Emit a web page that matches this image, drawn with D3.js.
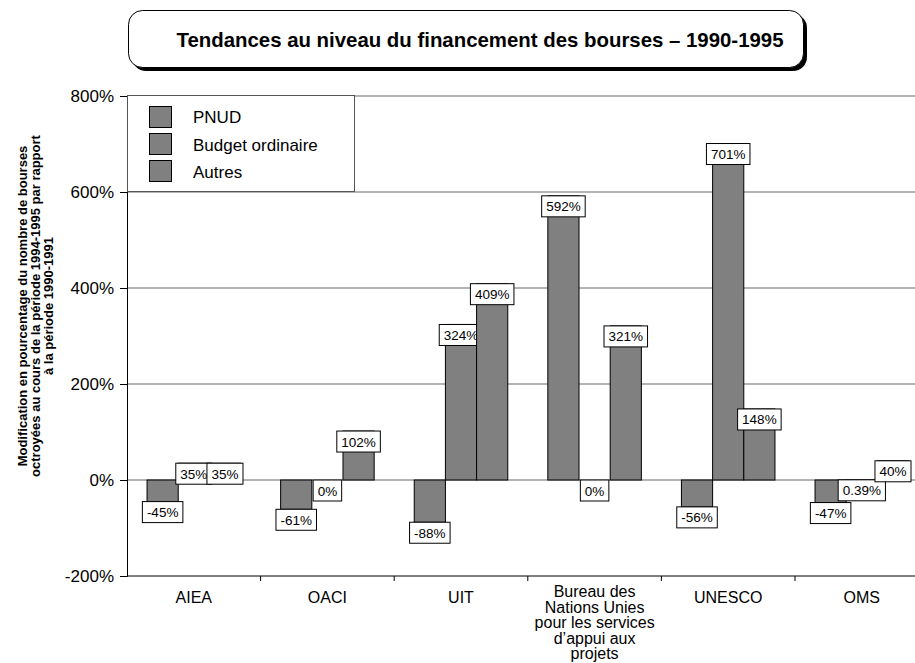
<!DOCTYPE html>
<html>
<head>
<meta charset="utf-8">
<script src="https://cdn.jsdelivr.net/npm/d3@7"></script>
<style>
  html, body { margin: 0; padding: 0; background: #fff; }
  svg { display: block; font-family: "Liberation Sans", Arial, sans-serif; }
</style>
</head>
<body>
<div id="chart"></div>
<script>
// ---- Data ----
const titleText = "Tendances au niveau du financement des bourses – 1990-1995";
const yAxisTitle = [
  "Modification en pourcentage du nombre de bourses",
  "octroyées au cours de la période 1994-1995 par rapport",
  "à la période 1990-1991"
];
const categories = ["AIEA", "OACI", "UIT", "Bureau", "UNESCO", "OMS"];
const categoryLabels = [
  ["AIEA"],
  ["OACI"],
  ["UIT"],
  ["Bureau des", "Nations Unies", "pour les services", "d’appui aux", "projets"],
  ["UNESCO"],
  ["OMS"]
];
const seriesNames = ["PNUD", "Budget ordinaire", "Autres"];
const pnud   = [-45, -61, -88, 592, -56, -47];
const budget = [35, 0, 324, 0, 701, 0.39];
const autres = [35, 102, 409, 321, 148, 40];
const yTicks = [-200, 0, 200, 400, 600, 800];

// ---- Layout ----
const W = 915, H = 663;
const plotLeft = 127, plotTop = 96, plotBottom = 576;
const step = 133.6;
const plotRight = plotLeft + step * categories.length;

const svg = d3.select("#chart").append("svg")
  .attr("width", W).attr("height", H);

const y = d3.scaleLinear().domain([-200, 800]).range([plotBottom, plotTop]);
const x0 = d3.scaleBand().domain(categories).range([plotLeft, plotRight])
  .paddingInner(0.3).paddingOuter(0.15);
const x1 = d3.scaleBand().domain(seriesNames).range([0, x0.bandwidth()]);

// Gridlines
svg.append("g").selectAll("line").data(yTicks.filter(t => t > -200))
  .join("line")
  .attr("x1", plotLeft).attr("x2", plotRight)
  .attr("y1", d => y(d)).attr("y2", d => y(d))
  .attr("stroke", "#6a6a6a").attr("stroke-width", 1);

// Y axis
const yAxis = d3.axisLeft(y).tickValues(yTicks).tickFormat(d => d + "%").tickSize(7).tickPadding(6);
const gy = svg.append("g").attr("transform", `translate(${plotLeft},0)`).call(yAxis);
gy.select(".domain").attr("stroke", "#000");
gy.selectAll(".tick line").attr("stroke", "#000");
gy.selectAll("text").attr("font-size", 17).attr("fill", "#000")
  .attr("font-family", "'Liberation Sans', Arial, sans-serif");

// X axis (bottom at -200%)
const gx = svg.append("g").attr("transform", `translate(0,${plotBottom})`);
gx.append("line").attr("x1", plotLeft).attr("x2", plotRight).attr("y1", 0).attr("y2", 0).attr("stroke", "#000");
gx.selectAll("line.tk").data(d3.range(1, categories.length + 1))
  .join("line").attr("class", "tk")
  .attr("x1", i => plotLeft + x0.step() * i).attr("x2", i => plotLeft + x0.step() * i)
  .attr("y1", 0).attr("y2", 5).attr("stroke", "#000");
const catText = gx.selectAll("text.cat").data(categories)
  .join("text").attr("class", "cat")
  .attr("text-anchor", "middle").attr("font-size", 16).attr("fill", "#000")
  .attr("transform", (d, i) => `translate(${x0(d) + x0.bandwidth() / 2},${categoryLabels[i].length > 1 ? 21 : 27})`);
catText.each(function(d, i) {
  d3.select(this).selectAll("tspan").data(categoryLabels[i]).join("tspan")
    .attr("x", 0).attr("dy", (t, j) => j === 0 ? 0 : 15.5).text(t => t);
});

// Bars + labels, series by series
const seriesData = [pnud, budget, autres];
seriesData.forEach((vals, si) => {
  const name = seriesNames[si];
  const g = svg.append("g");
  g.selectAll("rect").data(vals).join("rect")
    .attr("x", (d, i) => x0(categories[i]) + x1(name))
    .attr("width", x1.bandwidth())
    .attr("y", d => y(Math.max(0, d)))
    .attr("height", d => Math.abs(y(d) - y(0)))
    .attr("fill", "#808080").attr("stroke", "#000").attr("stroke-width", 1);
  const lg = g.selectAll("g.lbl").data(vals).join("g").attr("class", "lbl")
    .attr("transform", (d, i) => `translate(${x0(categories[i]) + x1(name) + x1.bandwidth() / 2},${y(d)})`);
  lg.each(function(d) {
    const gg = d3.select(this);
    const t = gg.append("text").attr("text-anchor", "middle").attr("y", 15.5)
      .attr("font-size", 13.5).attr("fill", "#000").text(d + "%");
    const w = t.node().getComputedTextLength() + 9;
    gg.insert("rect", "text").attr("x", -w / 2).attr("y", 0).attr("width", w).attr("height", 21)
      .attr("fill", "#fff").attr("stroke", "#000").attr("stroke-width", 1);
  });
});

// Legend
const leg = svg.append("g");
leg.append("rect").attr("x", 127.5).attr("y", 95.5).attr("width", 227).attr("height", 96)
  .attr("fill", "#fff").attr("stroke", "#555");
seriesNames.forEach((s, i) => {
  leg.append("rect").attr("x", 149.5).attr("y", 106.5 + i * 27).attr("width", 22).attr("height", 21)
    .attr("fill", "#808080").attr("stroke", "#000");
  leg.append("text").attr("x", 193).attr("y", 123 + i * 27.5).attr("font-size", 17)
    .attr("fill", "#000").text(s);
});

// Y axis title
yAxisTitle.forEach((line, i) => {
  svg.append("text")
    .attr("transform", `translate(${27 + i * 13},306) rotate(-90)`)
    .attr("text-anchor", "middle").attr("font-size", 13).attr("font-weight", "bold")
    .attr("fill", "#000").text(line);
});

// Title box with shadow
svg.append("rect").attr("x", 132).attr("y", 14).attr("width", 675).attr("height", 57)
  .attr("rx", 14).attr("fill", "#000");
svg.append("rect").attr("x", 128.5).attr("y", 10.5).attr("width", 675).attr("height", 57)
  .attr("rx", 14).attr("fill", "#fff").attr("stroke", "#000");
svg.append("text").attr("x", 480).attr("y", 47).attr("text-anchor", "middle")
  .attr("font-size", 20.4).attr("font-weight", "bold").attr("fill", "#000").text(titleText);
</script>
</body>
</html>
